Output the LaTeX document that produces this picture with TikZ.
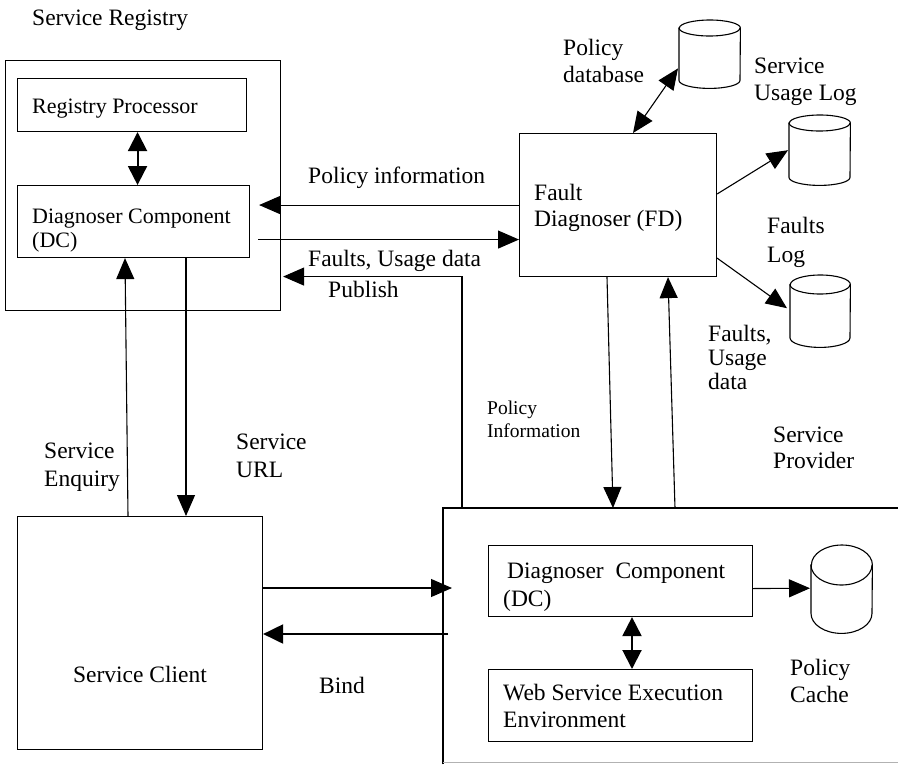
\documentclass[tikz,border=0pt]{standalone}
\usepackage{fontspec}
\setmainfont{Liberation Serif}
\usetikzlibrary{arrows.meta,calc}
\newcommand{\drumshape}[3]{% #1 node name, #2 y radius, #3 x radius
  \draw[line width=1.1pt, fill=white] ([yshift=-#2]#1.north west) -- ([yshift=#2]#1.south west)
    arc[start angle=180, end angle=360, x radius=#3, y radius=#2]
    -- ([yshift=-#2]#1.north east)
    arc[start angle=0, end angle=180, x radius=#3, y radius=#2] -- cycle;
  \draw[line width=1.1pt] ([yshift=-#2]#1.north west)
    arc[start angle=180, end angle=360, x radius=#3, y radius=#2];
}
\begin{document}
\begin{tikzpicture}[x=1pt,y=-1pt,
  box/.style={draw, line width=1.1pt, inner sep=0pt, anchor=north west},
  area/.style={inner sep=0pt, anchor=north west},
  lbl/.style={inner sep=0pt, anchor=base west, font=\fontsize{23.5}{26}\selectfont},
  lblr/.style={lbl, font=\fontsize{22}{25}\selectfont},
  lbls/.style={lbl, font=\fontsize{19.5}{22}\selectfont},
  conn/.style={line width=1.1pt, -{Triangle[length=21pt,width=18pt]}},
  biconn/.style={line width=1.1pt, {Triangle[length=21pt,width=18pt]}-{Triangle[length=21pt,width=18pt]}},
  heavyconn/.style={line width=2pt, -{Triangle[length=20pt,width=19pt]}},
  heavybi/.style={line width=2pt, {Triangle[length=19pt,width=19pt]}-{Triangle[length=19pt,width=19pt]}}]

\fill[white] (0,0) rectangle (898,764);
\useasboundingbox (0,0) rectangle (898,764);

% boxes
\node[box, minimum width=275pt, minimum height=250pt] (reg) at (5,60) {};
\node[box, minimum width=229pt, minimum height=53pt] (rp) at (17,78) {};
\node[box, minimum width=232pt, minimum height=72pt] (dc1) at (17,185) {};
\node[box, minimum width=197pt, minimum height=143pt] (fd) at (519,133) {};
\node[box, minimum width=245pt, minimum height=233pt] (client) at (17,516) {};
\node[area, minimum width=455pt, minimum height=256pt] (prov) at (443,508) {};
\draw[line width=1.1pt] (prov.south west) -- (prov.north west) -- (prov.north east);
\draw[line width=1pt, black!30] ([yshift=1.5pt]prov.south west) -- ([yshift=1.5pt]prov.south east);
\node[box, minimum width=264pt, minimum height=71pt] (dc2) at (488,545) {};
\node[box, minimum width=264pt, minimum height=72pt] (wsee) at (488,669) {};

% cylinders
\node[area, minimum width=61pt, minimum height=68pt] (pdb) at (679,20) {};
\node[area, minimum width=61pt, minimum height=70pt] (ulog) at (789,115) {};
\node[area, minimum width=60pt, minimum height=72pt] (flog) at (790,275) {};
\node[area, minimum width=61pt, minimum height=88pt] (pcache) at (811,545) {};
\drumshape{pdb}{8pt}{30.5pt}
\drumshape{ulog}{8pt}{30.5pt}
\drumshape{flog}{9.5pt}{30pt}
\drumshape{pcache}{20pt}{30.5pt}

% texts
\node[lbl] (tsr) at (32,25) {Service Registry};
\node[lblr] (trp) at (32,113) {Registry Processor};
\node[lblr] (tdc1a) at (32,223) {Diagnoser Component};
\node[lblr] (tdc1b) at (32,247) {(DC)};
\node[lbl] (tpi) at (308,183) {Policy information};
\node[lbl] (tfu) at (308,266) {Faults, Usage data};
\node[lbl] (tpub) at (328,297) {Publish};
\node[lbl] (tpda) at (563,55) {Policy};
\node[lbl] (tpdb) at (563,82) {database};
\node[lbl] (tsua) at (754,73) {Service};
\node[lbl] (tsub) at (754,100) {Usage Log};
\node[lbl] (tfda) at (534,200) {Fault};
\node[lbl] (tfdb) at (534,226) {Diagnoser (FD)};
\node[lbl] (tfla) at (767,233) {Faults};
\node[lbl] (tflb) at (767,262) {Log};
\node[lbl] (tfua) at (708,341) {Faults,};
\node[lbl] (tfub) at (708,365) {Usage};
\node[lbl] (tfuc) at (708,389) {data};
\node[lbl] (tspa) at (773,442) {Service};
\node[lbl] (tspb) at (773,468) {Provider};
\node[lbls] (tpia) at (487,414) {Policy};
\node[lbls] (tpib) at (487,437) {Information};
\node[lbl] (tsea) at (44,458) {Service};
\node[lbl] (tseb) at (44,486) {Enquiry};
\node[lbl] (tsuu) at (236,449) {Service};
\node[lbl] (tsuv) at (236,477) {URL};
\node[lbl, anchor=base] (tsc) at (140,682) {Service Client};
\node[lbl] (tbind) at (319,693) {Bind};
\node[lbl] (tdc2a) at (507,578) {Diagnoser\ \ Component};
\node[lbl] (tdc2b) at (503,606) {(DC)};
\node[lbl] (twa) at (503,700) {Web Service Execution};
\node[lbl] (twb) at (503,727) {Environment};
\node[lbl] (tpca) at (790,675) {Policy};
\node[lbl] (tpcb) at (790,702) {Cache};

% connectors
\draw[heavybi] ($(rp.south)+(5.5,0)$) -- ($(dc1.north)+(4,0)$);
\draw[conn, shorten >=9pt] (fd.west) -- (fd.west -| dc1.east);
\draw[conn] ($(dc1.east)+(8,18)$) -- ($(fd.west)+(0,34.5)$);
\draw[conn] ($(prov.north west)+(19,0)$) |- ($(reg.east)+(2,91)$);
\draw[conn] ($(client.north west)+(111,0)$) -- ($(dc1.south west)+(108,0)$);
\draw[conn] ($(dc1.south west)+(169,0)$) -- ($(client.north west)+(169,0)$);
\draw[conn] ($(client.north east)+(0,72)$) -- ($(prov.north west)+(9,80)$);
\draw[heavyconn] ($(prov.north west)+(5,126)$) -- ($(client.north east)+(0,118)$);
\draw[conn] ($(fd.south west)+(88,0)$) -- ($(prov.north west)+(170,0)$);
\draw[conn] ($(prov.north west)+(232,0)$) -- ($(fd.south west)+(149,0)$);
\draw[biconn] ($(fd.north west)+(114,0)$) -- ($(pdb.south west)+(-1,-20)$);
\draw[conn] ($(fd.north east)+(0,61)$) -- ($(ulog.west)+(-1,0)$);
\draw[conn] ($(fd.south east)+(0,-19)$) -- ($(flog.west)+(-3,-3)$);
\draw[conn] ($(dc2.east)+(0,7.5)$) -- ($(pcache.west)+(-1,-1)$);
\draw[heavybi] ($(dc2.south west)+(144,0)$) -- ($(wsee.north west)+(144,0)$);
\end{tikzpicture}
\end{document}
